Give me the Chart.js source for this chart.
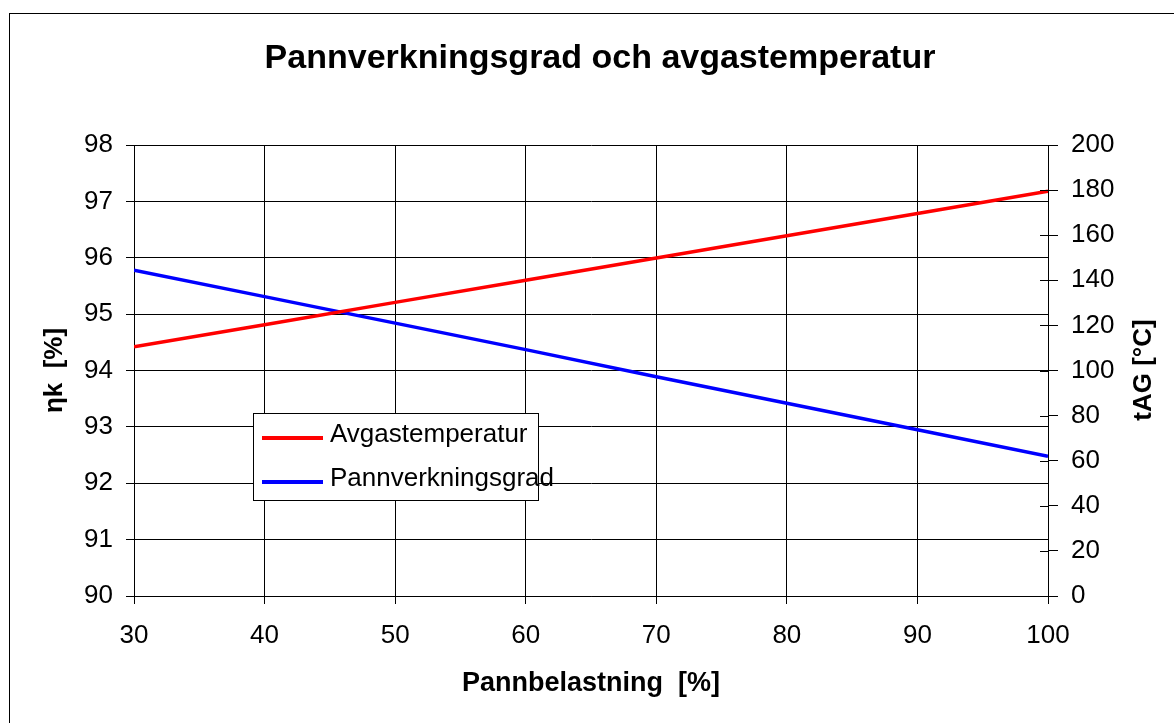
<!DOCTYPE html>
<html>
<head>
<meta charset="utf-8">
<script src="https://cdn.jsdelivr.net/npm/chart.js@4"></script>
<style>
  body { margin: 0; background: #fff; }
  canvas { display: block; }
</style>
</head>
<body>
<canvas id="myChart" width="1174" height="723"></canvas>
<script>
const loads = [30, 40, 50, 60, 70, 80, 90, 100];
const efficiency = [95.78, 95.31, 94.84, 94.37, 93.89, 93.42, 92.95, 92.48];
const flueTemp = [110.5, 120.3, 130.2, 140, 149.9, 159.8, 169.6, 179.5];

const chartTitle = 'Pannverkningsgrad och avgastemperatur';
const xTitle = 'Pannbelastning  [%]';
const yTitle = 'ηk  [%]';
const y2Title = 'tAG [°C]';
const seriesNames = ['Avgastemperatur', 'Pannverkningsgrad'];

const font = '"Liberation Sans", Arial, sans-serif';
Chart.defaults.color = '#000';
Chart.defaults.font.family = font;

const extras = {
    id: 'extras',
    beforeDraw(chart) {
        const ctx = chart.ctx;
        ctx.save();
        ctx.fillStyle = '#fff';
        ctx.fillRect(0, 0, chart.width, chart.height);
        ctx.strokeStyle = '#000';
        ctx.lineWidth = 1;
        ctx.strokeRect(9.5, 13.5, 1180, 720);
        ctx.restore();
    },
    afterDraw(chart) {
        const ctx = chart.ctx;
        const area = chart.chartArea;
        ctx.save();

        // title
        ctx.fillStyle = '#000';
        ctx.font = 'bold 34px ' + font;
        ctx.textAlign = 'center';
        ctx.textBaseline = 'alphabetic';
        ctx.fillText(chartTitle, 600, 68);

        // inner ticks of right axis
        const y2 = chart.scales.y2;
        ctx.strokeStyle = '#000';
        ctx.lineWidth = 1;
        y2.ticks.forEach(t => {
            const py = Math.round(y2.getPixelForValue(t.value)) + 0.5;
            ctx.beginPath();
            ctx.moveTo(area.right - 8, py);
            ctx.lineTo(area.right, py);
            ctx.stroke();
        });

        // right axis title
        ctx.save();
        ctx.translate(1144, 370);
        ctx.rotate(-Math.PI / 2);
        ctx.font = 'bold 26px ' + font;
        ctx.textAlign = 'center';
        ctx.textBaseline = 'middle';
        ctx.fillText(y2Title, 0, 0);
        ctx.restore();

        // legend
        ctx.fillStyle = '#fff';
        ctx.fillRect(253.5, 413.5, 285, 87);
        ctx.strokeStyle = '#000';
        ctx.strokeRect(253.5, 413.5, 285, 87);
        const colors = ['#ff0000', '#0000ff'];
        const rows = [438, 482];
        ctx.font = '26px ' + font;
        ctx.textAlign = 'left';
        ctx.textBaseline = 'middle';
        rows.forEach((ry, i) => {
            ctx.strokeStyle = colors[i];
            ctx.lineWidth = 4;
            ctx.beginPath();
            ctx.moveTo(262, ry);
            ctx.lineTo(323, ry);
            ctx.stroke();
            ctx.fillStyle = '#000';
            ctx.fillText(seriesNames[i], 330, ry - 3);
        });
        ctx.restore();
    }
};

const data = {
    datasets: [
        {
            label: seriesNames[0],
            data: loads.map((x, i) => ({x: x, y: flueTemp[i]})),
            borderColor: '#ff0000',
            borderWidth: 3.5,
            pointRadius: 0,
            yAxisID: 'y2'
        },
        {
            label: seriesNames[1],
            data: loads.map((x, i) => ({x: x, y: efficiency[i]})),
            borderColor: '#0000ff',
            borderWidth: 3.5,
            pointRadius: 0,
            yAxisID: 'y'
        }
    ]
};

const config = {
    type: 'line',
    data: data,
    plugins: [extras],
    options: {
        responsive: false,
        animation: false,
        layout: {
            padding: {top: 145, left: 0, right: 0, bottom: 0}
        },
        plugins: {
            legend: {display: false},
            tooltip: {enabled: false}
        },
        scales: {
            x: {
                type: 'linear',
                min: 30,
                max: 100,
                ticks: {stepSize: 10, padding: 16, font: {size: 26}},
                grid: {color: '#000', lineWidth: 1, tickLength: 8},
                border: {color: '#000', width: 1},
                title: {display: true, text: xTitle, font: {size: 27, weight: 'bold'}, padding: {top: 0, bottom: 23}},
                afterFit: s => { s.height = 127; }
            },
            y: {
                position: 'left',
                min: 90,
                max: 98,
                ticks: {stepSize: 1, padding: 13, font: {size: 26}},
                grid: {color: '#000', lineWidth: 1, tickLength: 8},
                border: {color: '#000', width: 1},
                title: {display: true, text: yTitle, font: {size: 26, weight: 'bold'}, padding: {top: 39, bottom: 0}},
                afterFit: s => { s.width = 134; }
            },
            y2: {
                position: 'right',
                min: 0,
                max: 200,
                ticks: {stepSize: 20, padding: 13, font: {size: 26}},
                grid: {drawOnChartArea: false, color: '#000', tickLength: 10},
                border: {color: '#000', width: 1},
                afterFit: s => { s.width = 126; }
            }
        }
    }
};

new Chart(document.getElementById('myChart'), config);
</script>
</body>
</html>
